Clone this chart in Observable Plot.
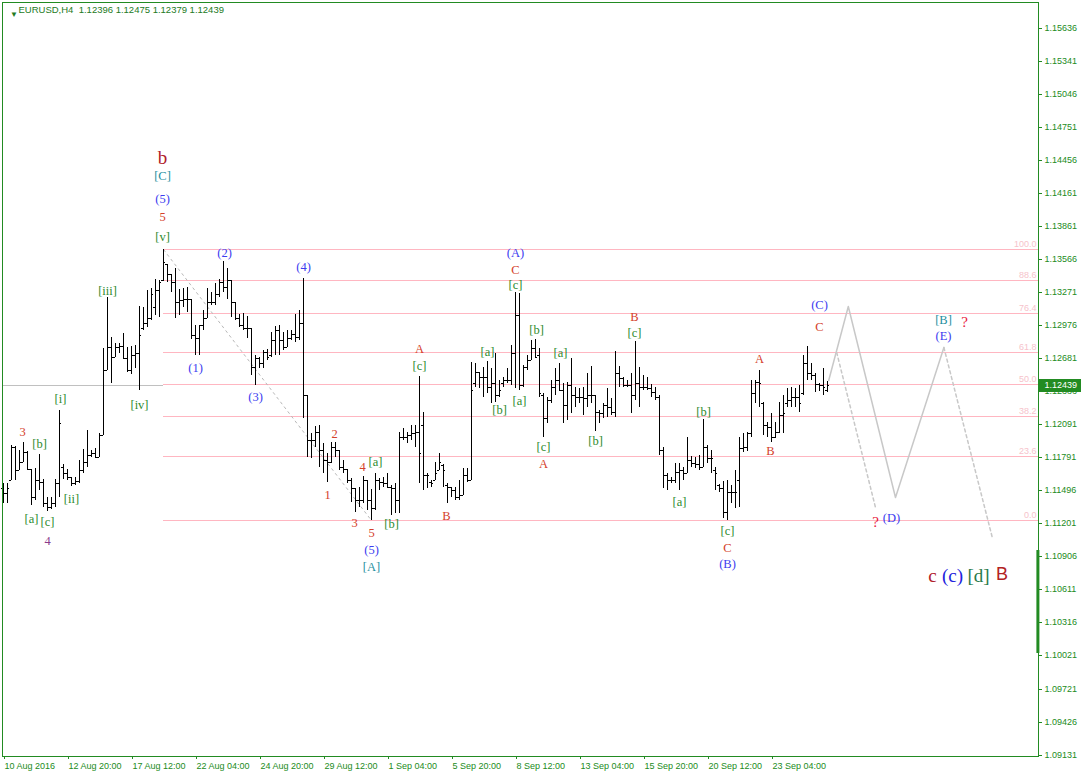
<!DOCTYPE html>
<html><head><meta charset="utf-8">
<script src="https://cdn.jsdelivr.net/npm/d3@7"></script>
<script src="https://cdn.jsdelivr.net/npm/@observablehq/plot@0.6"></script>
<style>
html,body{margin:0;padding:0;background:#fff;}
#chart svg{display:block;}
</style></head><body><div id="chart"></div>
<script>
// ---- time axis labels (every 16 H4 bars) ----
const timeTickBars = [0,16,32,48,64,80,96,112,128,144,160,176,192];
const timeLabels = ["10 Aug 2016","12 Aug 20:00","17 Aug 12:00","22 Aug 04:00","24 Aug 20:00","29 Aug 12:00","1 Sep 04:00","5 Sep 20:00","8 Sep 12:00","13 Sep 04:00","15 Sep 20:00","20 Sep 12:00","23 Sep 04:00"];
const priceTicks = [1.15636,1.15341,1.15046,1.14751,1.14456,1.14161,1.13861,1.13566,1.13271,1.12976,1.12681,1.12386,1.12091,1.11791,1.11496,1.11201,1.10906,1.10611,1.10316,1.10021,1.09721,1.09426,1.09131];

// ---- EURUSD H4 OHLC ----
const opens = [
1.11515,1.11470,1.11589,1.11887,1.11679,1.11753,1.11843,1.11685,1.11440,1.11589,
1.11575,1.11381,1.11351,1.11381,1.11560,1.11709,1.11649,1.11613,1.11560,1.11583,
1.11679,1.11753,1.11813,1.11828,1.11798,1.11992,1.12573,1.12781,1.12692,1.12775,
1.12787,1.12677,1.12573,1.12707,1.12722,1.12945,1.12990,1.13035,1.13139,1.13288,
1.13377,1.13526,1.13437,1.13362,1.13184,1.13199,1.13205,1.13205,1.12886,1.12856,
1.12975,1.13035,1.13184,1.13184,1.13258,1.13362,1.13318,1.13383,1.13184,1.13035,
1.12975,1.12945,1.12945,1.12603,1.12677,1.12632,1.12737,1.12707,1.12841,1.12930,
1.12841,1.12781,1.12856,1.12895,1.12871,1.12990,1.12349,1.11947,1.11947,1.12022,
1.11858,1.11768,1.11753,1.11887,1.11858,1.11709,1.11685,1.11589,1.11515,1.11411,
1.11411,1.11589,1.11411,1.11336,1.11589,1.11575,1.11560,1.11530,1.11515,1.11411,
1.11977,1.11977,1.11992,1.12013,1.12022,1.12081,1.11634,1.11575,1.11589,1.11679,
1.11724,1.11545,1.11530,1.11500,1.11440,1.11455,1.11634,1.11589,1.12454,1.12558,
1.12513,1.12513,1.12424,1.12454,1.12349,1.12454,1.12483,1.12483,1.12722,1.13064,
1.12439,1.12603,1.12662,1.12767,1.12707,1.12349,1.12141,1.12305,1.12424,1.12483,
1.12394,1.12260,1.12439,1.12349,1.12334,1.12334,1.12320,1.12349,1.12349,1.12200,
1.12186,1.12260,1.12245,1.12200,1.12543,1.12498,1.12439,1.12439,1.12349,1.12460,
1.12424,1.12424,1.12409,1.12379,1.12334,1.11858,1.11634,1.11589,1.11589,1.11664,
1.11679,1.11649,1.11768,1.11744,1.11732,1.11709,1.11887,1.11783,1.11679,1.11545,
1.11515,1.11306,1.11485,1.11485,1.11589,1.11873,1.11887,1.12007,1.12364,1.12469,
1.12275,1.12081,1.12066,1.11977,1.12022,1.12171,1.12275,1.12305,1.12334,1.12334,
1.12364,1.12632,1.12543,1.12528,1.12448,1.12439,1.12396];
const highs = [
1.11560,1.11560,1.11902,1.11893,1.11858,1.11926,1.11849,1.11685,1.11694,1.11819,
1.11595,1.11440,1.11440,1.11595,1.12215,1.11732,1.11691,1.11613,1.11613,1.11768,
1.11864,1.12036,1.11858,1.11873,1.12007,1.12767,1.13228,1.12871,1.12811,1.12811,
1.12901,1.12781,1.12787,1.12793,1.13145,1.13139,1.13288,1.13309,1.13392,1.13377,
1.13660,1.13526,1.13437,1.13482,1.13294,1.13303,1.13318,1.13213,1.12975,1.12975,
1.13109,1.13303,1.13273,1.13348,1.13392,1.13550,1.13482,1.13383,1.13184,1.13073,
1.13085,1.13056,1.12945,1.12707,1.12692,1.12752,1.12758,1.12916,1.12966,1.12975,
1.12916,1.12936,1.12936,1.13079,1.13109,1.13401,1.12349,1.12007,1.12072,1.12081,
1.11917,1.11828,1.11932,1.11932,1.11858,1.11768,1.11685,1.11604,1.11515,1.11530,
1.11625,1.11589,1.11505,1.11655,1.11604,1.11619,1.11655,1.11545,1.11560,1.12022,
1.12051,1.12022,1.12081,1.12081,1.12519,1.12200,1.11649,1.11589,1.11753,1.11828,
1.11732,1.11560,1.11530,1.11524,1.11589,1.11694,1.11694,1.12647,1.12632,1.12558,
1.12603,1.12656,1.12588,1.12722,1.12483,1.12513,1.12588,1.12796,1.13273,1.13264,
1.12618,1.12707,1.12841,1.12847,1.12767,1.12364,1.12334,1.12483,1.12588,1.12632,
1.12454,1.12469,1.12677,1.12424,1.12409,1.12424,1.12543,1.12609,1.12349,1.12215,
1.12275,1.12409,1.12320,1.12746,1.12609,1.12513,1.12483,1.12543,1.12835,1.12603,
1.12528,1.12513,1.12448,1.12424,1.12349,1.11881,1.11649,1.11613,1.11738,1.11738,
1.11709,1.11977,1.11804,1.11798,1.11813,1.12132,1.11902,1.11858,1.11703,1.11554,
1.11583,1.11589,1.11545,1.11679,1.11977,1.12007,1.12022,1.12483,1.12483,1.12573,
1.12290,1.12111,1.12186,1.12111,1.12290,1.12349,1.12409,1.12424,1.12409,1.12439,
1.12707,1.12787,1.12632,1.12549,1.12460,1.12588,1.12475];
const lows = [
1.11381,1.11381,1.11589,1.11589,1.11679,1.11753,1.11679,1.11366,1.11411,1.11500,
1.11351,1.11315,1.11327,1.11351,1.11440,1.11595,1.11589,1.11536,1.11545,1.11560,
1.11649,1.11709,1.11798,1.11792,1.11798,1.11992,1.12573,1.12454,1.12692,1.12722,
1.12668,1.12558,1.12537,1.12588,1.12394,1.12930,1.12960,1.13020,1.13064,1.13050,
1.13371,1.13362,1.13273,1.13035,1.13064,1.13139,1.13094,1.12847,1.12707,1.12707,
1.12930,1.13035,1.13154,1.13154,1.13228,1.13273,1.13213,1.13044,1.13020,1.12960,
1.12930,1.12856,1.12528,1.12439,1.12588,1.12588,1.12662,1.12692,1.12707,1.12707,
1.12752,1.12781,1.12841,1.12826,1.12841,1.12141,1.11798,1.11783,1.11887,1.11709,
1.11649,1.11575,1.11738,1.11798,1.11679,1.11649,1.11560,1.11396,1.11306,1.11351,
1.11381,1.11321,1.11232,1.11321,1.11500,1.11530,1.11515,1.11277,1.11291,1.11297,
1.11947,1.11917,1.11947,1.11887,1.11560,1.11500,1.11515,1.11530,1.11589,1.11679,
1.11530,1.11381,1.11440,1.11411,1.11411,1.11455,1.11575,1.11589,1.12424,1.12409,
1.12334,1.12364,1.12275,1.12290,1.12334,1.12424,1.12454,1.12439,1.12409,1.12394,
1.12424,1.12573,1.12662,1.12677,1.12334,1.11977,1.12096,1.12275,1.12349,1.12394,
1.12096,1.12126,1.12186,1.12245,1.12275,1.12171,1.12245,1.12275,1.12030,1.12096,
1.12141,1.12156,1.12171,1.12156,1.12424,1.12424,1.12424,1.12186,1.12305,1.12245,
1.12394,1.12394,1.12334,1.12305,1.11813,1.11515,1.11500,1.11560,1.11560,1.11500,
1.11589,1.11649,1.11709,1.11694,1.11679,1.11709,1.11738,1.11649,1.11500,1.11485,
1.11247,1.11232,1.11381,1.11336,1.11351,1.11843,1.11852,1.11977,1.12275,1.12245,
1.11992,1.11977,1.11932,1.11962,1.12007,1.12007,1.12245,1.12245,1.12245,1.12200,
1.12349,1.12483,1.12483,1.12379,1.12388,1.12349,1.12379];
const closes = [
1.11470,1.11515,1.11887,1.11679,1.11753,1.11843,1.11685,1.11440,1.11589,1.11575,
1.11381,1.11351,1.11381,1.11560,1.12102,1.11649,1.11619,1.11560,1.11583,1.11679,
1.11753,1.11813,1.11828,1.11798,1.11992,1.12573,1.12781,1.12692,1.12775,1.12787,
1.12677,1.12573,1.12707,1.12722,1.12886,1.12990,1.13035,1.13258,1.13288,1.13362,
1.13541,1.13437,1.13362,1.13184,1.13199,1.13205,1.13205,1.12886,1.12856,1.12975,
1.13035,1.13184,1.13184,1.13258,1.13362,1.13318,1.13383,1.13184,1.13035,1.12975,
1.12945,1.12945,1.12603,1.12677,1.12632,1.12737,1.12692,1.12841,1.12930,1.12841,
1.12781,1.12856,1.12895,1.12871,1.12990,1.12349,1.11947,1.11947,1.12022,1.11858,
1.11768,1.11753,1.11887,1.11858,1.11709,1.11685,1.11589,1.11515,1.11411,1.11411,
1.11589,1.11411,1.11336,1.11589,1.11575,1.11560,1.11530,1.11515,1.11411,1.11977,
1.11977,1.11992,1.12013,1.12022,1.11828,1.11634,1.11634,1.11560,1.11649,1.11753,
1.11679,1.11530,1.11500,1.11440,1.11455,1.11634,1.11589,1.12394,1.12558,1.12513,
1.12513,1.12424,1.12454,1.12349,1.12394,1.12483,1.12483,1.12722,1.13064,1.12439,
1.12603,1.12662,1.12767,1.12692,1.12364,1.12141,1.12305,1.12424,1.12483,1.12394,
1.12260,1.12439,1.12349,1.12334,1.12334,1.12320,1.12349,1.12349,1.12200,1.12186,
1.12260,1.12245,1.12200,1.12543,1.12498,1.12439,1.12439,1.12349,1.12460,1.12424,
1.12424,1.12409,1.12379,1.12334,1.11858,1.11634,1.11589,1.11589,1.11664,1.11679,
1.11649,1.11768,1.11744,1.11732,1.11709,1.11887,1.11783,1.11783,1.11649,1.11515,
1.11306,1.11485,1.11485,1.11485,1.11873,1.11887,1.12007,1.12364,1.12469,1.12454,
1.12081,1.12066,1.11977,1.12022,1.12171,1.12186,1.12305,1.12334,1.12334,1.12281,
1.12632,1.12543,1.12528,1.12448,1.12439,1.12424,1.12439];

// ---- Fibonacci retracement (from the b top to the [A] low) ----
const fibRatios = [0, 23.6, 38.2, 50.0, 61.8, 76.4, 88.6, 100.0];
const fibStartBar = 40;
const fibLow = 1.11232, fibHigh = 1.13660;

// ---- wave labels: bar index + price ----
const greenLabels = [
  {t:"[b]",i:9,p:1.11920},{t:"[i]",i:14.25,p:1.12323},{t:"[a]",i:7,p:1.11249},{t:"[c]",i:11,p:1.11222},
  {t:"[ii]",i:17,p:1.11428},{t:"[iii]",i:26,p:1.13289},{t:"[iv]",i:34,p:1.12269},{t:"[v]",i:39.75,p:1.13773},
  {t:"[a]",i:93,p:1.11759},{t:"[b]",i:97,p:1.11204},{t:"[c]",i:104,p:1.12618},{t:"[a]",i:121,p:1.12743},
  {t:"[b]",i:124,p:1.12224},{t:"[c]",i:128,p:1.13343},{t:"[b]",i:133.25,p:1.12940},{t:"[a]",i:129,p:1.12305},
  {t:"[a]",i:139.25,p:1.12734},{t:"[c]",i:135,p:1.11893},{t:"[b]",i:148,p:1.11947},{t:"[c]",i:157.75,p:1.12913},
  {t:"[a]",i:169,p:1.11401},{t:"[b]",i:175,p:1.12206},{t:"[c]",i:181,p:1.11141}
];
const redLabels = [
  {t:"3",i:4.75,p:1.12027},{t:"5",i:39.75,p:1.13952},{t:"2",i:82.75,p:1.12009},{t:"1",i:81,p:1.11463},
  {t:"4",i:89.75,p:1.11714},{t:"3",i:87.75,p:1.11213},{t:"5",i:92,p:1.11123},{t:"A",i:104,p:1.12770},
  {t:"B",i:110.75,p:1.11276},{t:"C",i:128,p:1.13477},{t:"A",i:135,p:1.11741},{t:"B",i:157.75,p:1.13057},
  {t:"C",i:181,p:1.10989},{t:"A",i:189,p:1.12681},{t:"B",i:191.75,p:1.11857},{t:"C",i:204,p:1.12967}
];
const blueLabels = [
  {t:"(5)",i:39.75,p:1.14113},{t:"(2)",i:55.25,p:1.13629},{t:"(1)",i:48,p:1.12600},{t:"(3)",i:63,p:1.12341},
  {t:"(4)",i:75,p:1.13504},{t:"(5)",i:92,p:1.10971},{t:"(A)",i:128,p:1.13629},{t:"(B)",i:181,p:1.10846},
  {t:"(C)",i:204,p:1.13164},{t:"(E)",i:235,p:1.12887},{t:"(D)",i:222,p:1.11258}
];
const tealLabels = [{t:"[C]",i:39.75,p:1.14319},{t:"[A]",i:92,p:1.10819},{t:"[B]",i:235,p:1.13030}];
const purpleLabels = [{t:"4",i:11,p:1.11052}];
const questionLabels = [{t:"?",i:240.25,p:1.13003},{t:"?",i:218,p:1.11213}];
const topLabel = [{t:"b",i:39.75,p:1.14480}];
const bottomSerif = [{t:"c",i:232.25,p:1.10739,k:"r"},{t:"(c)",i:237.25,p:1.10739,k:"b"},{t:"[d]",i:243.75,p:1.10739,k:"g"}];
const bottomSans = [{t:"B",i:249.6,p:1.10747}];

// ---- projected paths ----
const projSolid = [{i:206.3,p:1.12484},{i:211.2,p:1.13149},{i:223,p:1.11439},{i:235.1,p:1.12782}];
const projDashA = [{i:235.1,p:1.12782},{i:247.2,p:1.11081}];
const projDashB = [{i:208.3,p:1.12734},{i:218,p:1.11347}];

const header = "EURUSD,H4\u00a0\u00a01.12396 1.12475 1.12379 1.12439";

// ---- build ----
const bars = opens.map((o, i) => ({i, o, h: highs[i], l: lows[i], c: closes[i]}));
const fibs = fibRatios.map(r => ({r, p: fibLow + (fibHigh - fibLow) * r / 100, label: r.toFixed(1)}));
const lastClose = closes[closes.length - 1];
const xEnd = 258.75;
const G = "#228b22";
const serif = "'Liberation Serif', 'Times New Roman', serif";

const chart = Plot.plot({
  width: 1081, height: 777,
  marginLeft: 2, marginRight: 43, marginTop: 2, marginBottom: 21,
  style: {background: "#fff", fontFamily: "'Liberation Sans', Arial, sans-serif", fontSize: "9px"},
  x: {type: "linear", domain: [-0.25, xEnd], axis: null},
  y: {type: "linear", domain: [1.09119, 1.15867], axis: null, round: true},
  marks: [
    Plot.ruleY([lastClose], {x1: -0.25, x2: fibStartBar, stroke: "#c0c0c0"}),
    Plot.ruleY(fibs, {y: "p", x1: fibStartBar, x2: xEnd, stroke: "#ffb6c1"}),
    Plot.text(fibs, {x: xEnd, y: "p", text: "label", textAnchor: "end", dx: -2, dy: -5, fill: "#f6c3cb", fontSize: 9}),
    Plot.link([{a: 40, b: 92}], {x1: "a", y1: d => highs[d.a], x2: "b", y2: d => lows[d.b], stroke: "#b8b8b8", strokeDasharray: "3,3"}),
    Plot.line(projSolid, {x: "i", y: "p", stroke: "#c8c8c8"}),
    Plot.line(projDashA, {x: "i", y: "p", stroke: "#c8c8c8", strokeDasharray: "3,3"}),
    Plot.line(projDashB, {x: "i", y: "p", stroke: "#c8c8c8", strokeDasharray: "3,3"}),
    Plot.ruleX(bars, {x: "i", y1: "l", y2: "h", stroke: "#000"}),
    Plot.ruleY(bars, {y: "o", x1: d => d.i - 0.5, x2: "i", stroke: "#000"}),
    Plot.ruleY(bars, {y: "c", x1: "i", x2: d => d.i + 0.5, stroke: "#000"}),
    Plot.text(greenLabels, {x: "i", y: "p", text: "t", fill: "#2e8b2e", fontSize: 12.5, fontFamily: serif}),
    Plot.text(redLabels, {x: "i", y: "p", text: "t", fill: "#d4402a", fontSize: 12.5, fontFamily: serif}),
    Plot.text(blueLabels, {x: "i", y: "p", text: "t", fill: "#3c3cf0", fontSize: 12.5, fontFamily: serif}),
    Plot.text(tealLabels, {x: "i", y: "p", text: "t", fill: "#1f8fa0", fontSize: 12.5, fontFamily: serif}),
    Plot.text(purpleLabels, {x: "i", y: "p", text: "t", fill: "#8b3a8b", fontSize: 12.5, fontFamily: serif}),
    Plot.text(questionLabels, {x: "i", y: "p", text: "t", fill: "#e8173c", fontSize: 15, fontFamily: serif}),
    Plot.text(topLabel, {x: "i", y: "p", text: "t", fill: "#b0202a", fontSize: 19, fontFamily: serif}),
    Plot.text(bottomSerif, {x: "i", y: "p", text: "t", fill: d => ({r: "#b0202a", b: "#2222dd", g: "#2a7a4a"})[d.k], fontSize: 19, fontFamily: serif}),
    Plot.text(bottomSans, {x: "i", y: "p", text: "t", fill: "#b22222", fontSize: 18}),
    Plot.frame({stroke: G}),
    Plot.axisX(timeTickBars, {anchor: "bottom", tickSize: 3, tickPadding: 3, textAnchor: "start", dx: 1, fontSize: 9, color: G,
      tickFormat: d => timeLabels[timeTickBars.indexOf(d)]}),
    Plot.axisY(priceTicks, {anchor: "right", tickSize: 3, tickPadding: 3, fontSize: 9, color: G, tickFormat: d => d.toFixed(5)}),
    Plot.rect([{a: 1.10040, b: 1.10962}], {x1: 258.35, x2: 259.1, y1: "a", y2: "b", fill: G}),
    Plot.rect([lastClose], {x1: xEnd, x2: 269.5, y1: d => d - 0.0006, y2: d => d + 0.00058, fill: G}),
    Plot.text([lastClose], {x: xEnd, y: d => d, text: d => d.toFixed(5), textAnchor: "start", dx: 6, fill: "#fff", fontSize: 9}),
    Plot.text([header], {frameAnchor: "top-left", dx: 16, dy: 4, lineAnchor: "top", textAnchor: "start", fill: "#237a23", fontSize: 9.5}),
    Plot.text(["\u25BC"], {frameAnchor: "top-left", dx: 7.5, dy: 9, fill: "#237a23", fontSize: 8})
  ]
});
document.getElementById("chart").appendChild(chart);
</script></body></html>
